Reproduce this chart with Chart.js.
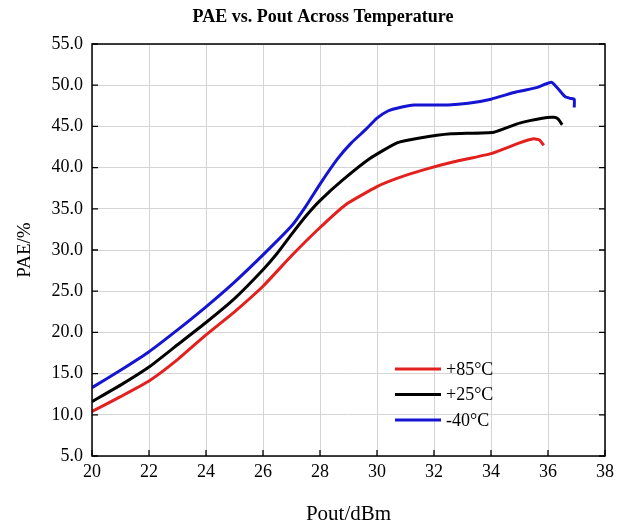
<!DOCTYPE html>
<html>
<head>
<meta charset="utf-8">
<script src="https://cdn.jsdelivr.net/npm/chart.js@4.4.1/dist/chart.umd.min.js"></script>
<style>
html, body { margin: 0; padding: 0; background: #fff; }
</style>
</head>
<body>
<canvas id="pae-chart" width="628" height="527"></canvas>
<script>
// values
const chartTitle = 'PAE vs. Pout Across Temperature';
const seriesLabels = ['+85°C', '+25°C', '-40°C'];

const hotX = [20.0, 21.0, 22.0, 23.0, 24.0, 25.0, 26.0, 27.0, 27.9, 28.9, 30.0, 30.7, 31.6, 32.7, 34.0, 35.0, 35.5, 35.7, 35.85];
const hotY = [10.4, 12.2, 14.1, 16.7, 19.7, 22.5, 25.6, 29.3, 32.4, 35.5, 37.7, 38.7, 39.7, 40.7, 41.7, 43.0, 43.5, 43.35, 42.7];

const roomX = [20.0, 21.0, 22.0, 23.0, 24.0, 25.0, 26.0, 26.5, 27.0, 27.5, 28.0, 28.8, 29.75, 30.7, 31.5, 32.6, 34.1, 35.0, 35.8, 36.2, 36.35, 36.5];
const roomY = [11.6, 13.6, 15.8, 18.5, 21.2, 24.1, 27.6, 29.6, 31.9, 34.1, 36.0, 38.5, 41.1, 43.0, 43.6, 44.1, 44.3, 45.4, 46.0, 46.1, 45.9, 45.2];

const coldX = [20.0, 21.0, 22.0, 23.0, 24.0, 25.0, 26.0, 27.0, 27.5, 28.0, 28.6, 29.1, 29.6, 30.0, 30.4, 30.8, 31.3, 32.5, 33.2, 34.0, 34.9, 35.6, 36.13, 36.6, 36.77, 36.92, 36.92];
const coldY = [13.3, 15.4, 17.65, 20.3, 23.1, 26.1, 29.4, 32.9, 35.3, 38.0, 41.0, 43.0, 44.6, 46.0, 46.9, 47.3, 47.6, 47.6, 47.8, 48.3, 49.2, 49.7, 50.35, 48.6, 48.4, 48.3, 47.3];

const xTickValues = [20, 22, 24, 26, 28, 30, 32, 34, 36, 38];
const yTickValues = [5, 10, 15, 20, 25, 30, 35, 40, 45, 50, 55];

const colors = ['#e3201e', '#000000', '#1414d2'];
const serif = '"Liberation Serif", "Times New Roman", serif';

function toPoints(xs, ys) {
    return xs.map((x, i) => ({ x: x, y: ys[i] }));
}

// title sits a bit right of the canvas centre in the reference
const topTitle = {
    id: 'topTitle',
    afterDraw(chart) {
        const ctx = chart.ctx;
        ctx.save();
        ctx.font = 'bold 18px ' + serif;
        ctx.fillStyle = '#000';
        ctx.textAlign = 'center';
        ctx.textBaseline = 'middle';
        ctx.fillText(chartTitle, 323, 17);
        ctx.restore();
    }
};

// black frame with inward tick marks
const frameTicks = {
    id: 'frameTicks',
    afterDraw(chart) {
        const { ctx, chartArea: a, scales } = chart;
        ctx.save();
        ctx.strokeStyle = '#000';
        ctx.lineWidth = 1.5;
        ctx.strokeRect(a.left, a.top, a.right - a.left, a.bottom - a.top);
        ctx.lineWidth = 1.3;
        ctx.beginPath();
        xTickValues.forEach(v => {
            const px = scales.x.getPixelForValue(v);
            ctx.moveTo(px, a.bottom);
            ctx.lineTo(px, a.bottom - 6);
        });
        yTickValues.forEach(v => {
            const py = scales.y.getPixelForValue(v);
            ctx.moveTo(a.left, py);
            ctx.lineTo(a.left + 6, py);
            ctx.moveTo(a.right, py);
            ctx.lineTo(a.right - 6, py);
        });
        ctx.stroke();
        ctx.restore();
    }
};

// legend placed inside the plot, lower right
const innerLegend = {
    id: 'innerLegend',
    afterDatasetsDraw(chart) {
        const { ctx, chartArea: a } = chart;
        const x0 = a.left + 303;
        const y0 = a.top + 325;
        ctx.save();
        ctx.font = '18px ' + serif;
        ctx.textBaseline = 'middle';
        chart.data.datasets.forEach((ds, i) => {
            const y = y0 + i * 25.5;
            ctx.strokeStyle = ds.borderColor;
            ctx.lineWidth = 3;
            ctx.beginPath();
            ctx.moveTo(x0, y);
            ctx.lineTo(x0 + 46, y);
            ctx.stroke();
            ctx.fillStyle = '#000';
            ctx.fillText(ds.label, x0 + 51, y + 1);
        });
        ctx.restore();
    }
};

const ctx = document.getElementById('pae-chart').getContext('2d');
new Chart(ctx, {
    type: 'line',
    data: {
        datasets: [{
            label: seriesLabels[0],
            data: toPoints(hotX, hotY),
            borderColor: colors[0]
        }, {
            label: seriesLabels[1],
            data: toPoints(roomX, roomY),
            borderColor: colors[1]
        }, {
            label: seriesLabels[2],
            data: toPoints(coldX, coldY),
            borderColor: colors[2]
        }]
    },
    options: {
        responsive: false,
        animation: false,
        elements: {
            line: { borderWidth: 3, tension: 0.15, fill: false },
            point: { radius: 0 }
        },
        layout: { padding: { left: 0, right: 23, top: 44, bottom: 0 } },
        plugins: {
            legend: { display: false },
            tooltip: { enabled: false },
            title: { display: false }
        },
        scales: {
            x: {
                type: 'linear',
                min: xTickValues[0],
                max: xTickValues[xTickValues.length - 1],
                afterBuildTicks: s => { s.ticks = xTickValues.map(v => ({ value: v })); },
                afterFit: s => { s.height = 71; },
                grid: { color: '#d4d4d4', lineWidth: 1, drawTicks: false },
                border: { display: false },
                ticks: {
                    color: '#000',
                    font: { family: serif, size: 18 },
                    padding: 5,
                    maxRotation: 0
                },
                title: {
                    display: true,
                    text: 'Pout/dBm',
                    color: '#000',
                    font: { family: serif, size: 21 },
                    padding: { top: 2, bottom: 0 }
                }
            },
            y: {
                type: 'linear',
                min: yTickValues[0],
                max: yTickValues[yTickValues.length - 1],
                afterBuildTicks: s => { s.ticks = yTickValues.map(v => ({ value: v })); },
                afterFit: s => { s.width = 92; },
                grid: { color: '#d4d4d4', lineWidth: 1, drawTicks: false },
                border: { display: false },
                ticks: {
                    color: '#000',
                    font: { family: serif, size: 18 },
                    padding: 9,
                    callback: v => Number(v).toFixed(1)
                },
                title: {
                    display: true,
                    text: 'PAE/%',
                    color: '#000',
                    font: { family: serif, size: 19 },
                    padding: { top: 14, bottom: 0 }
                }
            }
        }
    },
    plugins: [topTitle, frameTicks, innerLegend]
});
</script>
</body>
</html>
